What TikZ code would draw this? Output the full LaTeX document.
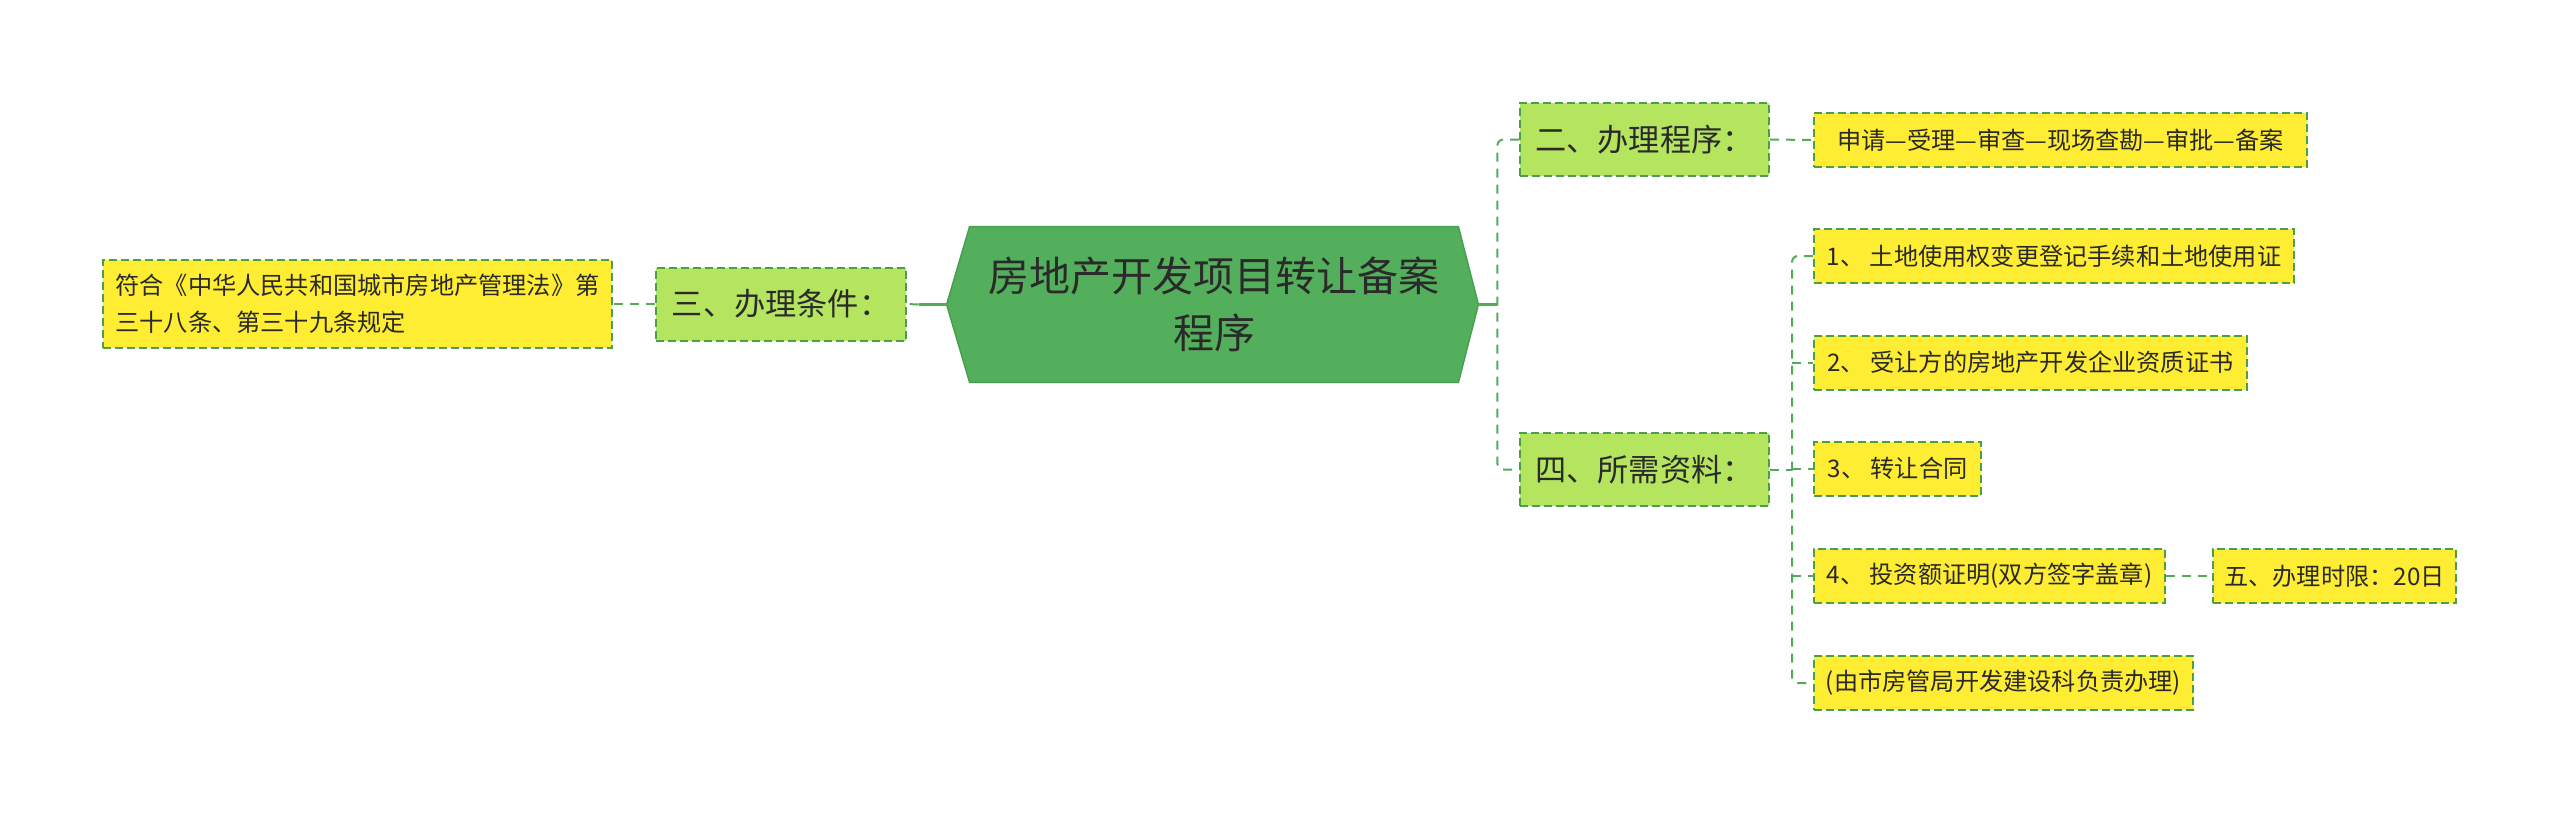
\documentclass[tikz,border=0pt]{standalone}
\usepackage{fontspec}
\setmainfont{Noto Sans CJK SC}
\usetikzlibrary{backgrounds,calc}
\definecolor{cfill}{HTML}{54AF5C}
\definecolor{cborder}{HTML}{46A04E}
\definecolor{lgreen}{HTML}{B5E45F}
\definecolor{yfill}{HTML}{FFED33}
\definecolor{dgreen}{HTML}{4A9E4C}
\definecolor{linec}{HTML}{55A958}
\definecolor{txt}{HTML}{2A2A2A}
\begin{document}
\begin{tikzpicture}[x=0.5pt,y=-0.5pt,
  basebox/.style={draw=dgreen, line width=1pt, dash pattern=on 4pt off 2pt, text=txt, inner sep=0pt},
  midbox/.style={basebox, fill=lgreen, minimum height=36.5pt, font=\fontsize{15.6pt}{20pt}\selectfont},
  leafbox/.style={basebox, fill=yfill, minimum height=27pt, font=\fontsize{12.1pt}{18.5pt}\selectfont},
  dashc/.style={draw=linec, line width=1pt, dash pattern=on 4.5pt off 3.5pt},
  solidc/.style={draw=linec, line width=1.5pt},
]
\useasboundingbox (0,0) rectangle (2560,815);
% central node
\node[text=txt, align=center, minimum width=244pt, minimum height=77.5pt, inner sep=0pt,
  font=\fontsize{20.5pt}{28.5pt}\selectfont] (c) at (1214,304.5) {房地产开发项目转让备案\\程序};
\begin{scope}[on background layer]
\filldraw[fill=cfill, draw=cborder, line width=0.75pt]
  (c.north west) -- (c.north east) -- ($(c.east)+(20,0)$) coordinate (cR)
  -- (c.south east) -- (c.south west) -- ($(c.west)+(-23,0)$) coordinate (cL) -- cycle;
\end{scope}
% level 1
\node[midbox, minimum width=125pt] (b3) at (781,304) {三、办理条件：};
\node[midbox, minimum width=124.5pt] (b2) at (1644.5,139.5) {二、办理程序：};
\node[midbox, minimum width=124.5pt] (b4) at (1644.5,469.5) {四、所需资料：};
% leaves
\node[leafbox, minimum width=254.5pt, minimum height=44pt, align=left] (ly) at (357.5,304)
  {符合《中华人民共和国城市房地产管理法》第\\三十八条、第三十九条规定};
\node[leafbox, minimum width=246.5pt] (s1) at (2060.5,140) {申请—受理—审查—现场查勘—审批—备案};
\node[leafbox, minimum width=240pt] (i1) at (2054,256) {1、 土地使用权变更登记手续和土地使用证};
\node[leafbox, minimum width=216.5pt] (i2) at (2030.5,362.5) {2、 受让方的房地产开发企业资质证书};
\node[leafbox, minimum width=83.5pt] (i3) at (1897.5,468.5) {3、 转让合同};
\node[leafbox, minimum width=175.5pt] (i4) at (1989.5,576) {4、 投资额证明(双方签字盖章)};
\node[leafbox, minimum width=189.5pt] (i5) at (2003.5,683) {(由市房管局开发建设科负责办理)};
\node[leafbox, minimum width=121.5pt] (t5) at (2334.5,576) {五、办理时限：20日};
% connectors
\draw[solidc] (cR) -- ++(19,0) coordinate (jr);
\draw[dashc, rounded corners=3pt] (b2.west) -- (b2.west -| jr) -- (b4.west -| jr) -- (b4.west);
\draw[solidc] (cL) -- ++(-28,0) coordinate (jl);
\draw[dashc] (jl) -- (b3.east);
\draw[dashc] (b3.west) -- (ly.east);
\draw[dashc] (b2.east) -- (s1.west);
\draw[dashc] (b4.east) -- ++(22,0) coordinate (jm);
\draw[dashc, rounded corners=3pt] (i1.west) -- (i1.west -| jm) -- (i5.west -| jm) -- (i5.west);
\draw[dashc] (i2.west -| jm) -- (i2.west);
\draw[dashc] (i3.west -| jm) -- (i3.west);
\draw[dashc] (i4.west -| jm) -- (i4.west);
\draw[dashc] (i4.east) -- (t5.west);
\end{tikzpicture}
\end{document}
